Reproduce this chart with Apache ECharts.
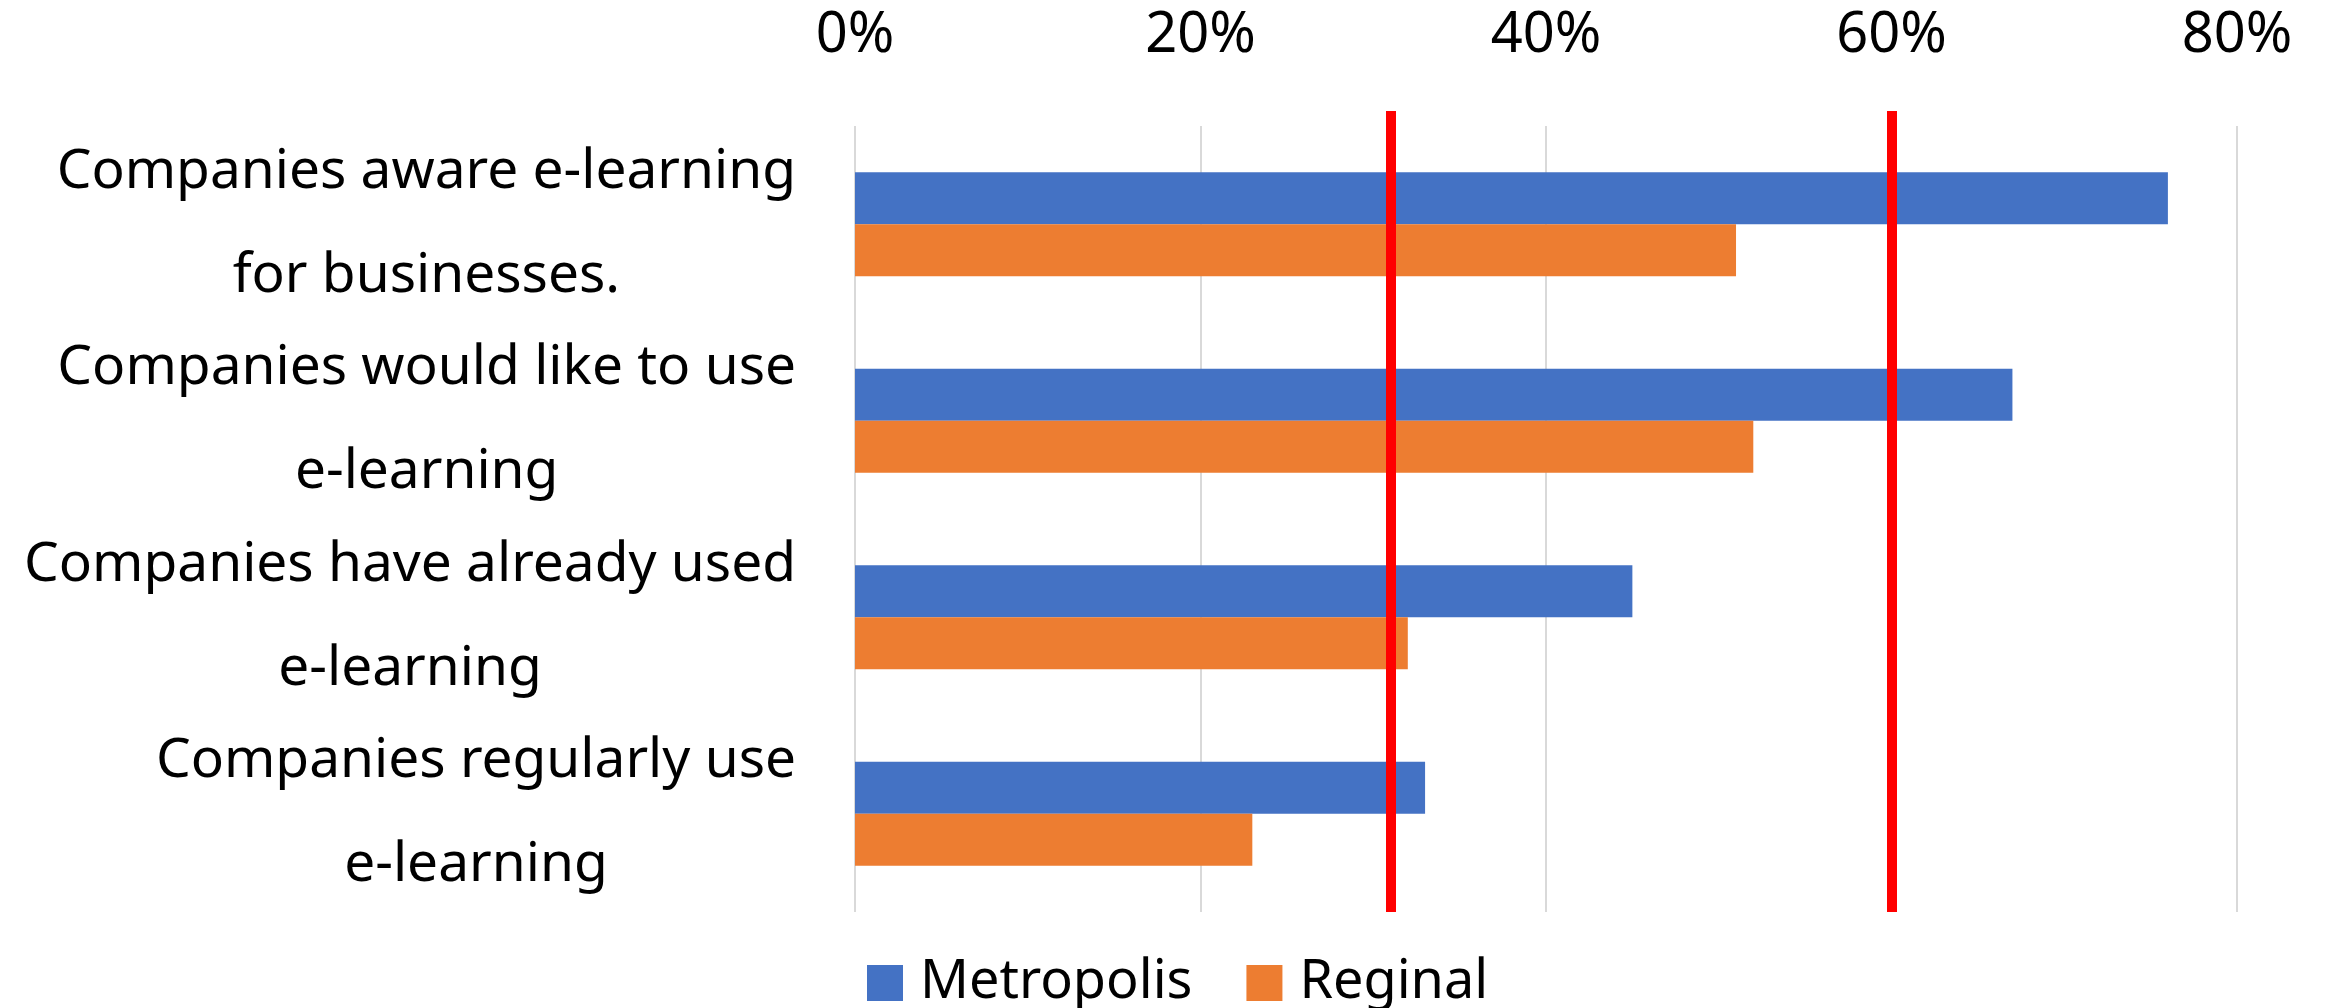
<!DOCTYPE html>
<html>
<head>
<meta charset="utf-8">
<script src="https://cdn.jsdelivr.net/npm/echarts@6/dist/echarts.min.js"></script>
<style>
  html, body { margin: 0; padding: 0; background: #fff; }
  #chart { width: 2325px; height: 1008px; }
</style>
</head>
<body>
<div id="chart"></div>
<script>
const categories = [
  'Companies aware e-learning\nfor businesses.',
  'Companies would like to use\ne-learning',
  'Companies have already used\ne-learning',
  'Companies regularly use\ne-learning',
]
const metropolis = [76, 67, 45, 33]
const reginal = [51, 52, 32, 23]
const refLines = [31, 60]
const xTicks = [0, 20, 40, 60, 80]

const font = 'Noto Sans'
const chart = echarts.init(document.getElementById('chart'))

const option = {
  animation: false,
  backgroundColor: '#fff',
  textStyle: { fontFamily: font, color: '#000' },
  grid: [
    { left: 855, right: 88, top: 126, bottom: 96 },
    { left: 855, right: 88, top: 111, bottom: 96 },
  ],
  legend: {
    data: ['Metropolis', 'Reginal'],
    left: 862,
    bottom: -7,
    itemWidth: 36,
    itemHeight: 36,
    itemGap: 54,
    icon: 'rect',
    textStyle: { fontSize: 54, fontFamily: font, color: '#000', padding: [0, 0, 0, 12] },
  },
  xAxis: [
    {
      type: 'value',
      gridIndex: 0,
      position: 'top',
      min: xTicks[0],
      max: xTicks[xTicks.length - 1],
      interval: 20,
      axisLine: { show: false },
      axisTick: { show: false },
      axisLabel: { formatter: '{value}%', fontSize: 56, color: '#000', margin: 62 },
      splitLine: { lineStyle: { color: '#d9d9d9', width: 2 } },
    },
    {
      type: 'value',
      gridIndex: 1,
      min: xTicks[0],
      max: xTicks[xTicks.length - 1],
      show: false,
    },
  ],
  yAxis: [
    {
      type: 'category',
      gridIndex: 0,
      inverse: true,
      data: categories,
      axisLine: { show: false },
      axisTick: { show: false },
      axisLabel: {
        interval: 0,
        align: 'right',
        margin: 59,
        fontSize: 55,
        lineHeight: 104,
        color: '#000',
        formatter: v => v.split('\n').map(s => '{c|' + s + '}').join('\n'),
        rich: { c: { align: 'center', fontSize: 55, lineHeight: 104, fontFamily: font } },
      },
    },
    {
      type: 'category',
      gridIndex: 1,
      data: ['a'],
      show: false,
    },
  ],
  series: [
    {
      name: 'Metropolis',
      type: 'bar',
      data: metropolis,
      itemStyle: { color: '#4472c4' },
      barGap: '0%',
      barCategoryGap: '47%',
    },
    {
      name: 'Reginal',
      type: 'bar',
      data: reginal,
      itemStyle: { color: '#ed7d31' },
    },
    {
      type: 'bar',
      xAxisIndex: 1,
      yAxisIndex: 1,
      data: [],
      silent: true,
      markLine: {
        symbol: ['none', 'none'],
        label: { show: false },
        lineStyle: { type: 'solid', color: '#ff0000', width: 10 },
        emphasis: { disabled: true },
        data: refLines.map(v => ({ xAxis: v })),
      },
    },
  ],
}
chart.setOption(option)
</script>
</body>
</html>
